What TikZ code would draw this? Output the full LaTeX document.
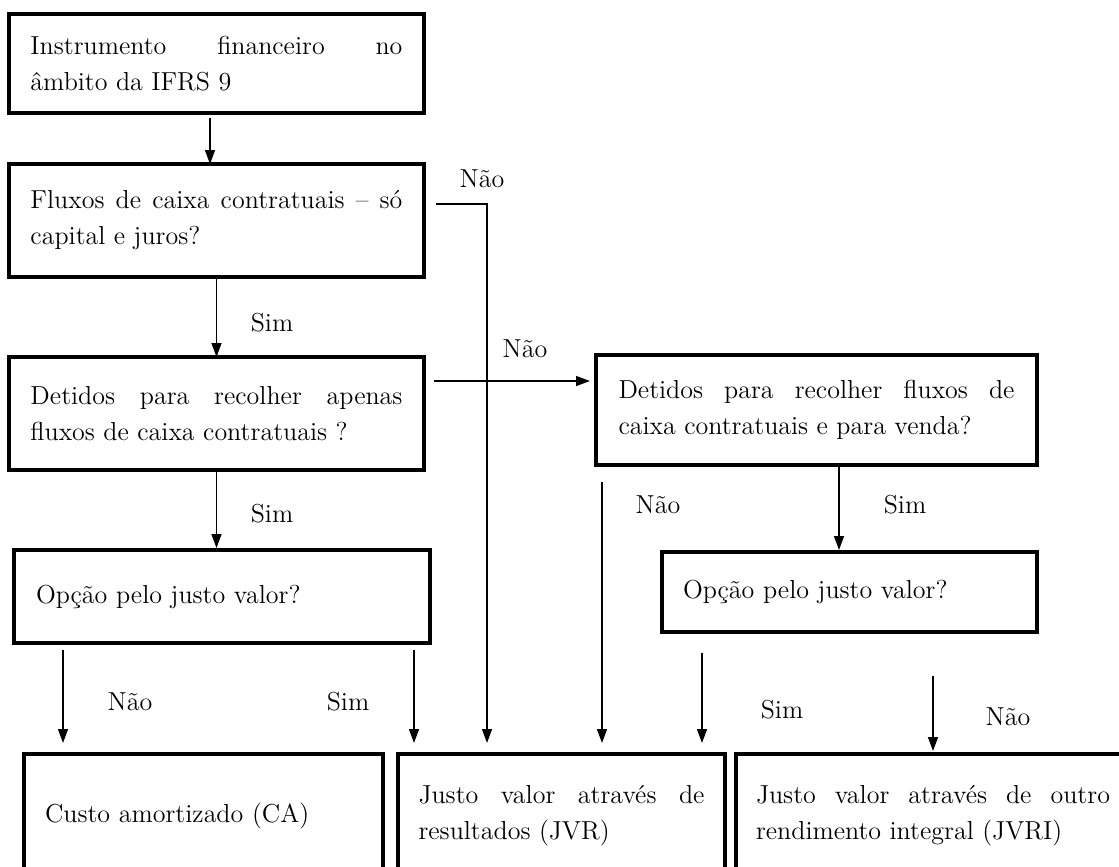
\documentclass[tikz,border=0pt]{standalone}
\usepackage{fontspec}
\usetikzlibrary{arrows.meta}
\begin{document}
\begin{tikzpicture}[x=0.5pt,y=-0.5pt,
  box/.style={draw,line width=2pt,inner sep=0pt,align=justify,font=\fontsize{13}{18}\selectfont},
  arr/.style={line width=0.7pt,-{Triangle[length=7pt,width=5pt]}},
  ln/.style={line width=0.7pt},
  lbl/.style={font=\fontsize{13}{18}\selectfont,inner sep=0pt}]
\useasboundingbox (0,0) rectangle (1119,867);
\clip (0,0) rectangle (1119,867);
% boxes
\node[box,minimum width=207.5pt,minimum height=49.5pt,text width=186pt] (b1) at (216.5,63.5)
  {Instrumento financeiro no\linebreak âmbito da IFRS 9};
\node[box,minimum width=207.5pt,minimum height=56.5pt,text width=186pt] (b2) at (216.5,220.5)
  {Fluxos de caixa contratuais – só\linebreak capital e juros?};
\node[box,minimum width=207.5pt,minimum height=56.5pt,text width=186pt] (b3) at (216.5,413.5)
  {Detidos para recolher apenas\linebreak fluxos de caixa contratuais ?};
\node[box,minimum width=220.5pt,minimum height=55pt,text width=198pt] (b4) at (816.5,410)
  {Detidos para recolher fluxos de\linebreak caixa contratuais e para venda?};
\node[box,align=left,minimum width=208pt,minimum height=46.5pt,text width=186pt] (b5) at (222,596.5)
  {Opção pelo justo valor?};
\node[box,align=left,minimum width=187.5pt,minimum height=40pt,text width=166.5pt] (b6) at (849.5,592)
  {Opção pelo justo valor?};
\node[box,align=left,minimum width=179.5pt,minimum height=62pt,text width=158.5pt] (ca) at (203.5,816)
  {Custo amortizado (CA)};
\node[box,minimum width=163.5pt,minimum height=62pt,text width=143pt] (jvr) at (561.5,816)
  {Justo valor através de\linebreak resultados (JVR)};
\node[box,minimum width=197pt,minimum height=62pt,text width=177pt] (jvri) at (933,816)
  {Justo valor através de outro\linebreak rendimento integral (JVRI)};
% connector anchor points
\coordinate (s1) at (210,118);
\coordinate (n1s) at (436,204);
\coordinate (n1c) at (487,204);
\coordinate (n2s) at (434,381);
\coordinate (n3s) at (602,482);
\coordinate (s4) at (839,467);
\coordinate (s5l) at (63,650);
\coordinate (s5r) at (414,650);
\coordinate (s6l) at (702,653);
\coordinate (s6r) at (933,676);
% connectors
\draw[arr,shorten >=-1pt] (s1) -- (s1 |- b2.north);
\draw[arr,shorten >=-1pt] (b2.south) -- (b3.north);
\draw[arr,shorten >=0pt] (b3.south) -- (b3.south |- b5.north);
\draw[ln,-{Triangle[length=7pt,width=5pt]},shorten >=2pt] (n2s) -- (n2s -| b4.west);
\draw[arr,shorten >=4.5pt] (n1s) -- (n1c) -- (n1c |- jvr.north);
\draw[arr,shorten >=4.5pt] (n3s) -- (n3s |- jvr.north);
\draw[arr,shorten >=0pt] (s4) -- (s4 |- b6.north);
\draw[arr,shorten >=4.5pt] (s5l) -- (s5l |- ca.north);
\draw[arr,shorten >=4.5pt] (s5r) -- (s5r |- jvr.north);
\draw[arr,shorten >=4.5pt] (s6l) -- (s6l |- jvr.north);
\draw[arr,shorten >=0.5pt] (s6r) -- (s6r |- jvri.north);
% labels
\node[lbl] (l1) at (482,179) {Não};
\node[lbl] (l2) at (525,349) {Não};
\node[lbl] (l3) at (272,323) {Sim};
\node[lbl] (l4) at (272,514) {Sim};
\node[lbl] (l5) at (658,505) {Não};
\node[lbl] (l6) at (905,505) {Sim};
\node[lbl] (l7) at (130,702) {Não};
\node[lbl] (l8) at (348,702) {Sim};
\node[lbl] (l9) at (782,710) {Sim};
\node[lbl] (l10) at (1008,717) {Não};
\end{tikzpicture}
\end{document}
